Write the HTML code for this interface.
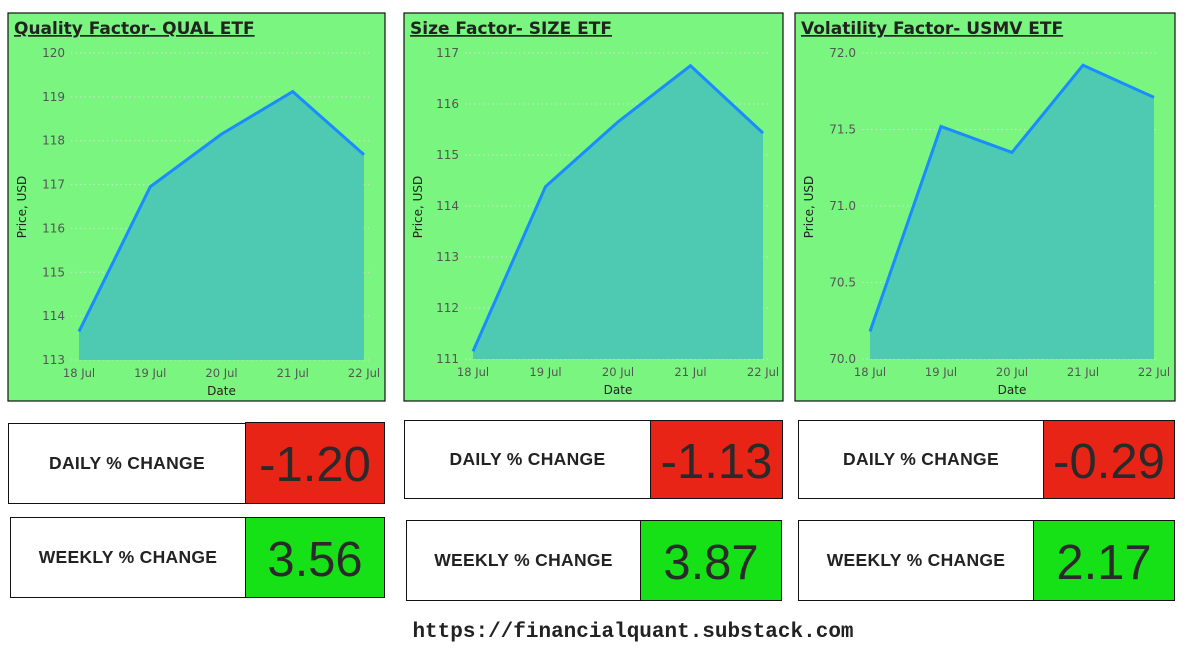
<!DOCTYPE html>
<html><head><meta charset="utf-8">
<style>
body{margin:0;width:1189px;height:664px;background:#fff;position:relative;overflow:hidden;font-family:"Liberation Sans",sans-serif}
.panel{position:absolute;background:#7af57f;border:1px solid #111;box-sizing:border-box}
.box{position:absolute;box-sizing:border-box;border:1.5px solid #111;display:flex;align-items:center;justify-content:center}
.lbl{background:#fff;font-weight:bold;font-size:17.5px;color:#222;letter-spacing:0.3px}
.val{font-size:49px;color:#2a2a2a;padding-top:4px}
.red{background:#e82416}
.grn{background:#16e016}
svg text{font-family:"DejaVu Sans","Liberation Sans",sans-serif}
</style></head><body>
<svg id="charts" width="1189" height="664" style="position:absolute;left:0;top:0"></svg>

<div class="box lbl" style="left:8px;top:423px;width:238px;height:81px">DAILY % CHANGE</div>
<div class="box val red" style="left:245px;top:422px;width:140px;height:82px">-1.20</div>
<div class="box lbl" style="left:10px;top:517px;width:236px;height:81px">WEEKLY % CHANGE</div>
<div class="box val grn" style="left:245px;top:517px;width:140px;height:81px">3.56</div>

<div class="box lbl" style="left:404px;top:420px;width:247px;height:79px">DAILY % CHANGE</div>
<div class="box val red" style="left:650px;top:420px;width:133px;height:79px">-1.13</div>
<div class="box lbl" style="left:406px;top:520px;width:235px;height:81px">WEEKLY % CHANGE</div>
<div class="box val grn" style="left:640px;top:520px;width:142px;height:81px">3.87</div>

<div class="box lbl" style="left:798px;top:420px;width:246px;height:79px">DAILY % CHANGE</div>
<div class="box val red" style="left:1043px;top:420px;width:132px;height:79px">-0.29</div>
<div class="box lbl" style="left:798px;top:520px;width:236px;height:81px">WEEKLY % CHANGE</div>
<div class="box val grn" style="left:1033px;top:520px;width:142px;height:81px">2.17</div>

<div style="position:absolute;left:0;width:1266px;top:621px;text-align:center;font-family:'Liberation Mono',monospace;font-weight:bold;font-size:21px;color:#222">https://financialquant.substack.com</div>

<script>
const dates = ["18 Jul","19 Jul","20 Jul","21 Jul","22 Jul"];
const qualValues = [113.65,116.95,118.15,119.12,117.68];
const sizeValues = [111.15,114.38,115.65,116.75,115.43];
const usmvValues = [70.18,71.52,71.35,71.92,71.71];
const qualTicks = [113,114,115,116,117,118,119,120];
const sizeTicks = [111,112,113,114,115,116,117];
const usmvTicks = [70.0,70.5,71.0,71.5,72.0];

const NS="http://www.w3.org/2000/svg";
const svg=document.getElementById('charts');
function mk(tag,attrs,parent){const e=document.createElementNS(NS,tag);for(const k in attrs)e.setAttribute(k,attrs[k]);(parent||svg).appendChild(e);return e;}

function chart(cfg){
  const g=mk('g',{});
  
  
  const bg=mk('rect',{x:cfg.px,y:13,width:cfg.pw,height:388,fill:'#7af57f',stroke:'#111','stroke-width':1.2},g);
  
  
  const t=mk('text',{x:cfg.px+6,y:34,'font-size':17,'font-weight':'bold',fill:'#222','text-decoration':'underline','font-family':'Liberation Sans'},g);
  t.textContent=cfg.title;
  
  
  const tmin=cfg.ticks[0],tmax=cfg.ticks[cfg.ticks.length-1];
  const y=v=>cfg.y0+(cfg.y1-cfg.y0)*(v-tmin)/(tmax-tmin);
  const x=i=>cfg.x0+(cfg.x1-cfg.x0)*i/(dates.length-1);
  cfg.ticks.forEach(v=>{
    const l=mk('line',{x1:cfg.x0-8,x2:cfg.x1+5,y1:y(v),y2:y(v),stroke:'#c8e8c8','stroke-width':1,'stroke-dasharray':'1.5,3'},g);
    
    
    const tt=mk('text',{x:cfg.x0-14,y:y(v)+4,'font-size':12,fill:'#555','text-anchor':'end'},g);
    tt.textContent=cfg.fmt(v);
    
    
  });
  let d='M'+x(0)+','+y(tmin);
  cfg.values.forEach((v,i)=>{d+=' L'+x(i)+','+y(v);});
  d+=' L'+x(dates.length-1)+','+y(tmin)+' Z';
  const a=mk('path',{d:d,fill:'#4ecab3'},g);
  
  
  const pts=cfg.values.map((v,i)=>x(i)+','+y(v)).join(' ');
  const pl=mk('polyline',{points:pts,fill:'none',stroke:'#1a8cff','stroke-width':3,'stroke-linejoin':'miter'},g);
  
  
  dates.forEach((dt,i)=>{
    const tx=mk('text',{x:x(i),y:cfg.y0+17,'font-size':11.5,fill:'#555','text-anchor':'middle'},g);
    tx.textContent=dt;
    
    
  });
  const xt=mk('text',{x:(cfg.x0+cfg.x1)/2,y:cfg.y0+35,'font-size':12,fill:'#222','text-anchor':'middle'},g);
  xt.textContent='Date';
  
  
  const yt=mk('text',{x:0,y:0,'font-size':12,fill:'#222','text-anchor':'middle',transform:'translate('+(cfg.px+18)+',207) rotate(-90)'},g);
  yt.textContent='Price, USD';
  
  
}
chart({name:'qual',title:'Quality Factor- QUAL ETF',px:8,pw:377,x0:79,x1:364,y0:360,y1:53,ticks:qualTicks,values:qualValues,fmt:v=>String(v)});
chart({name:'size',title:'Size Factor- SIZE ETF',px:404,pw:379,x0:473,x1:763,y0:359,y1:53,ticks:sizeTicks,values:sizeValues,fmt:v=>String(v)});
chart({name:'usmv',title:'Volatility Factor- USMV ETF',px:795,pw:380,x0:870,x1:1154,y0:359,y1:53,ticks:usmvTicks,values:usmvValues,fmt:v=>v.toFixed(1)});
</script>
</body></html>
